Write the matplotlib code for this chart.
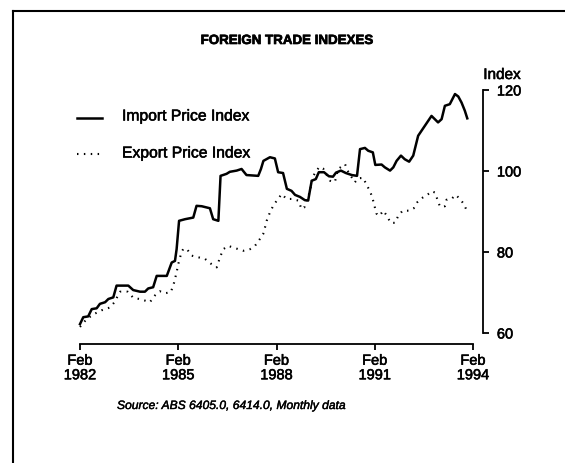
"""Foreign trade indexes: import and export price indexes, Feb 1982 - Feb 1994."""

import matplotlib

matplotlib.use("Agg")
import matplotlib.patheffects as pe
import matplotlib.pyplot as plt
from matplotlib.lines import Line2D

plt.rcParams["font.family"] = ["Liberation Sans", "DejaVu Sans"]

# months counted from Feb 1982
import_months = [0, 1.2, 3, 4.3, 6.1, 7.3, 9.2, 10.4, 12.2, 13.4, 17.7, 19.5, 22, 23.8,
                 25, 26.8, 28.1, 31.8, 33.6, 34.8, 35.4, 36.3, 38.5, 41.5, 42.7, 44.6,
                 47.6, 48.8, 50.7, 51.5, 53.7, 54.9, 57.4, 59.2, 61, 65.3, 66.3, 67.2,
                 69.6, 71.4, 72.6, 74.4, 75.8, 77.5, 78.8, 80.6, 82.4, 83.6, 84.2, 84.9,
                 86.4, 87.5, 89.4, 91.2, 92.7, 93.8, 95.6, 97.4, 99.6, 101.5, 102.6,
                 104.4, 105.6, 107.3, 108.2, 110.5, 111.7, 113.6, 114.8, 116, 117.6,
                 119, 120.6, 122.1, 123.9, 126.4, 128.8, 130, 131.2, 132.5, 133.7,
                 135.5, 137.4, 138.6, 139.8, 141, 141.9]
import_values = [62.2, 63.9, 64.1, 65.9, 66.1, 67.2, 67.6, 68.4, 68.8, 71.7, 71.7, 70.6,
                 70.2, 70.2, 71.0, 71.3, 74.1, 74.1, 77.4, 77.8, 80.7, 87.7, 88.1, 88.5,
                 91.4, 91.3, 90.8, 88.1, 87.7, 98.8, 99.3, 99.8, 100.1, 100.5, 99.0,
                 98.8, 100.5, 102.5, 103.4, 103.1, 99.7, 99.5, 95.6, 95.1, 94.1, 93.6,
                 92.8, 92.7, 95.0, 97.6, 98.0, 99.7, 99.7, 98.7, 98.6, 99.6, 100.1,
                 99.5, 99.0, 98.8, 105.4, 105.7, 105.0, 104.6, 101.5, 101.6, 100.9,
                 100.1, 100.9, 102.5, 103.8, 102.9, 102.3, 103.8, 108.7, 111.2, 113.6,
                 112.8, 112.0, 112.8, 116.1, 116.5, 119.0, 118.4, 116.9, 114.9, 113.0]

export_months = [0, 2.5, 5.5, 7.9, 11, 12.5, 14.7, 17.5, 19.5, 21.7, 23.8, 25.6, 27.5,
                 29.3, 31.1, 33.3, 34.5, 35.4, 36, 37.2, 37.9, 39.2, 40.9, 43.3, 45.8,
                 48.2, 50.1, 51.3, 52.5, 54.3, 56.2, 58, 59.8, 62.3, 64.1, 65.9, 67.1,
                 67.8, 68.4, 69.6, 70.8, 72.1, 73.9, 75.7, 77.5, 80, 81.2, 82.2, 83,
                 84.2, 85.2, 86.7, 87.7, 89.1, 91.6, 93.4, 94.6, 97.1, 98.3, 100.7,
                 101.9, 103.8, 104.9, 106.2, 107.1, 107.9, 108.6, 109.7, 111.1, 112.5,
                 113.8, 115.4, 116.6, 118.2, 120.6, 122.3, 123.6, 125.7, 127.6, 128.8,
                 130, 131, 131.9, 133.7, 134.3, 136.1, 137.7, 139.2, 140.7, 141.9]
export_values = [61.5, 63.5, 64.8, 65.6, 66.3, 67.5, 70.2, 70.2, 68.7, 68.4, 68.0, 67.6,
                 69.3, 70.3, 69.8, 70.1, 72.5, 75.0, 77.0, 80.0, 80.8, 80.7, 79.1, 78.7,
                 78.3, 77.0, 76.2, 78.7, 80.7, 81.5, 81.1, 80.7, 80.3, 80.7, 81.5, 83.2,
                 84.4, 86.1, 87.7, 89.8, 91.4, 92.7, 94.3, 93.1, 93.1, 92.7, 90.6, 91.0,
                 93.1, 94.7, 98.5, 100.1, 101.0, 100.6, 97.6, 97.3, 100.5, 101.7, 99.8,
                 97.2, 98.2, 98.3, 96.7, 95.1, 93.5, 91.4, 89.5, 88.9, 90.2, 88.9, 87.2,
                 87.2, 88.9, 90.2, 90.2, 90.8, 92.3, 93.5, 94.3, 95.0, 94.7, 92.9, 91.2,
                 91.3, 92.9, 93.1, 94.1, 93.1, 91.8, 89.9]

tick_months = [0, 36, 72, 108, 144]
tick_labels = ["Feb\n1982", "Feb\n1985", "Feb\n1988", "Feb\n1991", "Feb\n1994"]
y_ticks = [60, 80, 100, 120]

# slight stroke so the text looks as heavy as the scanned original
HEAVY = [pe.withStroke(linewidth=0.4, foreground="black")]


def main() -> None:
    fig = plt.figure(figsize=(5.65, 4.64), dpi=100)
    W, H = 565, 464

    # axes box: x axis line at y=345, y axis line at x=483
    ax = fig.add_axes([80 / W, 1 - 345 / H, (483 - 80) / W, (345 - 91) / H])
    ax.set_xlim(0, 144 * (483 - 80) / (473 - 80))
    ax.set_ylim(60 - (345 - 334) / 4.05, 120)

    ax.plot(import_months, import_values, color="black", lw=1.8, clip_on=False)
    ax.plot(export_months, export_values, color="black", lw=1.5,
            linestyle=(0, (0.7, 2.6)), clip_on=False)

    for side in ("top", "left"):
        ax.spines[side].set_visible(False)
    ax.spines["bottom"].set_bounds(0, 144)
    ax.spines["right"].set_bounds(60, 120)
    ax.spines["bottom"].set_linewidth(1.3)
    ax.spines["right"].set_linewidth(1.3)

    ax.set_xticks(tick_months)
    ax.set_xticklabels(tick_labels, fontsize=10.5, linespacing=1.05)
    ax.yaxis.tick_right()
    ax.set_yticks(y_ticks)
    ax.set_yticklabels([str(v) for v in y_ticks], fontsize=10.5)
    ax.tick_params(axis="x", direction="out", length=4, width=1.3, pad=3)
    ax.tick_params(axis="y", direction="out", length=4, width=1.3, pad=6)
    for lbl in ax.get_xticklabels() + ax.get_yticklabels():
        lbl.set_path_effects(HEAVY)

    fig.text(287 / W, 1 - 42 / H, "FOREIGN TRADE INDEXES", ha="center", va="center",
             fontsize=9.6, fontweight="bold",
             path_effects=[pe.withStroke(linewidth=0.5, foreground="black")])
    fig.text(502 / W, 1 - 76 / H, "Index", ha="center", va="center", fontsize=11,
             path_effects=HEAVY)

    # legend drawn by hand to sit left of the lines
    fig.add_artist(Line2D([77 / W, 102 / W], [1 - 119 / H, 1 - 119 / H],
                          color="black", lw=1.8))
    fig.add_artist(Line2D([77 / W, 102 / W], [1 - 155 / H, 1 - 155 / H],
                          color="black", lw=1.5, linestyle=(0, (0.7, 2.6))))
    fig.text(122 / W, 1 - 117 / H, "Import Price Index", ha="left", va="center",
             fontsize=11.3, path_effects=HEAVY)
    fig.text(122 / W, 1 - 154 / H, "Export Price Index", ha="left", va="center",
             fontsize=11.3, path_effects=HEAVY)

    fig.text(117 / W, 1 - 407 / H, "Source: ABS 6405.0, 6414.0, Monthly data",
             ha="left", va="center", fontsize=8.7, style="italic",
             path_effects=[pe.withStroke(linewidth=0.3, foreground="black")])

    # outer frame (left and top edges)
    fig.add_artist(Line2D([13 / W, 13 / W], [0, 1 - 12 / H], color="black", lw=1.5))
    fig.add_artist(Line2D([13 / W, 1], [1 - 12 / H, 1 - 12 / H], color="black", lw=1.5))

    fig.savefig("out.png", dpi=100)


if __name__ == "__main__":
    main()
